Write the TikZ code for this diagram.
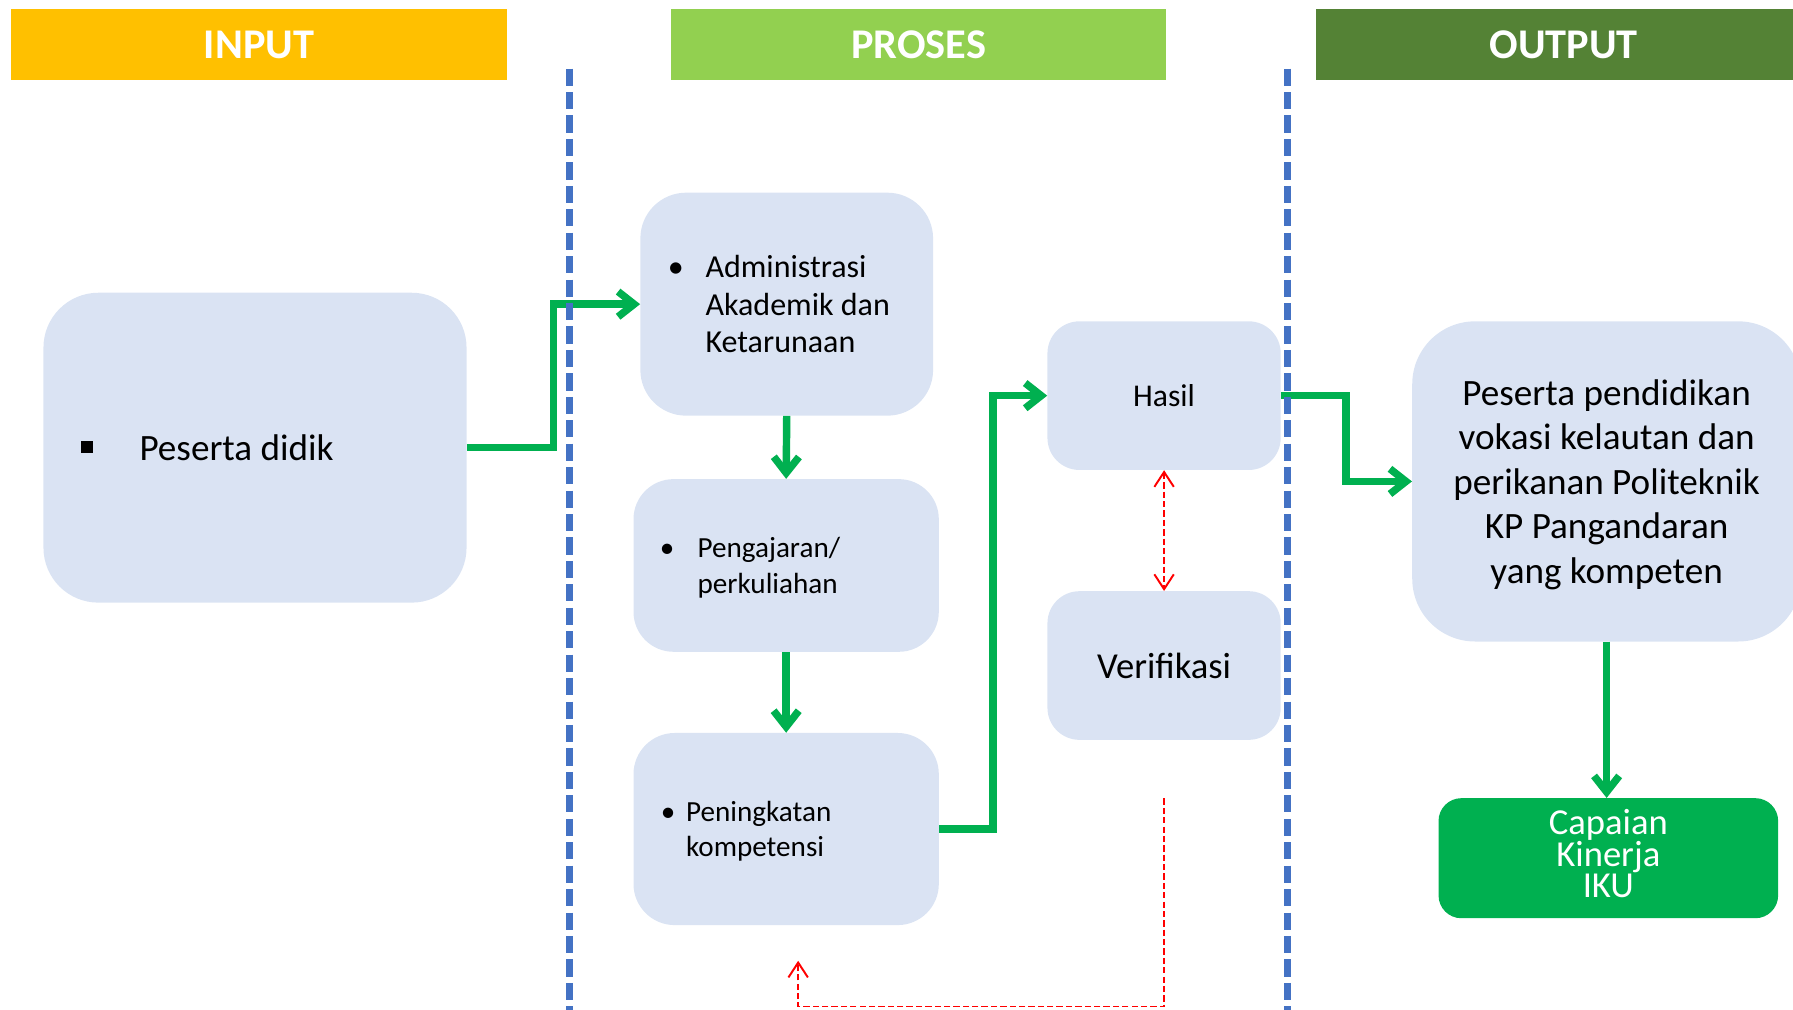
\documentclass[tikz,border=0pt]{standalone}
\usepackage{fontspec}
\setmainfont{Carlito}
\usetikzlibrary{arrows.meta,positioning}

\definecolor{inputyellow}{HTML}{FFC000}
\definecolor{prosesgreen}{HTML}{92D050}
\definecolor{outputgreen}{HTML}{548235}
\definecolor{boxblue}{HTML}{DAE3F3}
\definecolor{flowgreen}{HTML}{00B050}
\definecolor{lineblue}{HTML}{4472C4}
\newcommand{\sqbul}{\rule[6.5pt]{10pt}{10.5pt}}

\begin{document}
\begin{tikzpicture}[x=1pt,y=-1pt,
    header/.style={fill=#1, text=white, font=\fontsize{37}{44}\selectfont\bfseries,
        minimum width=433pt, minimum height=62pt, inner sep=0pt},
    stepbox/.style={fill=boxblue, align=flush left, inner ysep=0pt},
    flow/.style={draw=flowgreen, line width=6.5pt, -{Straight Barb[length=14pt,width=22pt]}},
    check/.style={draw=red, line width=1.7pt, dash pattern=on 5.5pt off 2.7pt},
    checktip/.tip={Straight Barb[length=13pt,width=17pt]},
    divider/.style={draw=lineblue, line width=5.5pt, dash pattern=on 15pt off 5.5pt}]
    \useasboundingbox (0,0) rectangle (1568,883);

    % column headers
    \node [header=inputyellow] (input) at (226.5,39) {INPUT};
    \node [header=prosesgreen] (proses) at (803.5,39) {PROSES};
    \node [header=outputgreen] (output) at (1367.5,39) {OUTPUT};

    % input
    \node [stepbox, rounded corners=48pt, text width=304pt, inner xsep=33pt, minimum height=271pt,
        font=\fontsize{32.5}{39}\selectfont] (didik) at (223,391.5)
        {\makebox[51pt][l]{\sqbul}Peserta didik};

    % proses
    \node [stepbox, rounded corners=40pt, text width=208pt, inner xsep=24pt, minimum height=195pt,
        font=\fontsize{28}{33}\selectfont] (admin) at (688,266)
        {\makebox[33pt][l]{\textbullet}Administrasi\\\hspace*{33pt}Akademik dan\\\hspace*{33pt}Ketarunaan};
    \node [stepbox, rounded corners=35pt, text width=221pt, inner xsep=23pt, minimum height=151pt,
        text depth=31pt, font=\fontsize{25.5}{31}\selectfont] (ajar) at (687.5,494.5)
        {\makebox[33pt][l]{\textbullet}Pengajaran/\\\hspace*{33pt}perkuliahan};
    \node [stepbox, rounded corners=36pt, text width=219pt, inner xsep=24pt, minimum height=168pt,
        text depth=31pt, font=\fontsize{25.5}{31}\selectfont] (tingkat) at (687.5,725)
        {\makebox[22pt][l]{\textbullet}Peningkatan\\\hspace*{22pt}kompetensi};
    \node [stepbox, rounded corners=28pt, inner xsep=0pt, minimum width=204pt, minimum height=130pt,
        font=\fontsize{27.7}{33}\selectfont] (hasil) at (1018,346) {Hasil};
    \node [stepbox, rounded corners=28pt, inner xsep=0pt, minimum width=204pt, minimum height=130pt,
        font=\fontsize{32}{38}\selectfont] (verifikasi) at (1018,582) {Verifikasi};

    % output
    \node [stepbox, align=center, rounded corners=55pt, inner xsep=0pt, minimum width=340pt, minimum height=280pt,
        text depth=0pt, font=\fontsize{32.5}{39}\selectfont] (lulusan) at (1405,421)
        {Peserta pendidikan\\vokasi kelautan dan\\perikanan Politeknik\\KP Pangandaran\\yang kompeten};
    \node [fill=flowgreen, text=white, align=center, rounded corners=20pt, inner sep=0pt,
        minimum width=297pt, minimum height=105pt, text depth=8pt,
        font=\fontsize{32}{27.5}\selectfont] (capaian) at (1406.5,750.5) {Capaian\\Kinerja\\IKU};

    \coordinate [below=51pt of verifikasi.south] (fbstart);
    \coordinate [below=31pt of tingkat.south, xshift=10.5pt] (fbend);

    % green flow
    \draw [flow] (didik.east) -- ++(76,0) |- (admin.west);
    \draw [flow] (admin.south) -- (ajar.north);
    \draw [flow] (ajar.south) -- (tingkat.north);
    \draw [flow] (tingkat.east) -- ++(47,0) |- (hasil.west);
    \draw [flow] (hasil.east) -- ++(57,0) |- (lulusan.west);
    \draw [flow] (lulusan.south) -- (lulusan.south |- capaian.north);

    % red checks
    \draw [check, {checktip}-{checktip}] (hasil.south) -- (verifikasi.north);
    \draw [check, -{checktip}] (fbstart) -- ++(0,182) -| (fbend);

    % dividers
    \draw [divider] (498,60) -- (498,883);
    \draw [divider] (1126,60) -- (1126,883);
\end{tikzpicture}
\end{document}
